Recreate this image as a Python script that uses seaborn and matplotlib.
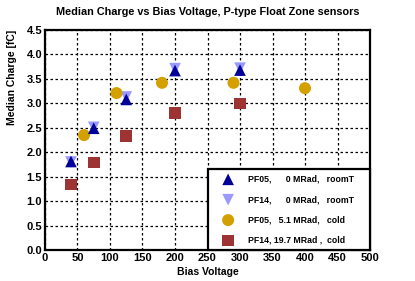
import numpy as np
import pandas as pd
import matplotlib
matplotlib.use('Agg')
import matplotlib.pyplot as plt
import seaborn as sns
from matplotlib.ticker import MultipleLocator, FormatStrFormatter

sns.set_style('white')
plt.rcParams['font.family'] = ['Liberation Sans', 'DejaVu Sans']
plt.rcParams['text.color'] = 'black'
plt.rcParams['axes.labelcolor'] = 'black'
plt.rcParams['xtick.color'] = 'black'
plt.rcParams['ytick.color'] = 'black'

# data
pf05_room_v = [40, 75, 125, 200, 300]
pf05_room_q = [1.81, 2.49, 3.08, 3.67, 3.68]
pf14_room_v = [40, 75, 125, 200, 300]
pf14_room_q = [1.80, 2.51, 3.13, 3.71, 3.72]
pf05_cold_v = [60, 110, 180, 290, 400]
pf05_cold_q = [2.35, 3.21, 3.42, 3.42, 3.31]
pf14_cold_v = [40, 75, 125, 200, 300]
pf14_cold_q = [1.34, 1.79, 2.33, 2.80, 3.00]

labels = ['PF05,      0 MRad,   roomT',
          'PF14,      0 MRad,   roomT',
          'PF05,   5.1 MRad,   cold',
          'PF14, 19.7 MRad ,  cold']

series = [
    (pf05_room_v, pf05_room_q, labels[0], '^', '#000099', 70, 4),
    (pf14_room_v, pf14_room_q, labels[1], 'v', '#9999ff', 70, 3),
    (pf05_cold_v, pf05_cold_q, labels[2], 'o', '#d4a000', 75, 3),
    (pf14_cold_v, pf14_cold_q, labels[3], 's', '#9e3333', 70, 3),
]

fig = plt.figure(figsize=(4.15, 2.81), dpi=100)
ax = fig.add_axes([0.1084, 0.1103, 0.7832, 0.7829])

for v, q, lab, m, c, s, z in series:
    df = pd.DataFrame({'v': v, 'q': q})
    sns.scatterplot(data=df, x='v', y='q', marker=m, color=c, s=s,
                    edgecolor='none', label=lab, ax=ax, zorder=z)

ax.set_xlim(0, 500)
ax.set_ylim(0, 4.5)
ax.xaxis.set_major_locator(MultipleLocator(50))
ax.xaxis.set_minor_locator(MultipleLocator(10))
ax.yaxis.set_major_locator(MultipleLocator(0.5))
ax.yaxis.set_minor_locator(MultipleLocator(0.1))
ax.yaxis.set_major_formatter(FormatStrFormatter('%.1f'))
ax.tick_params(which='both', direction='in', top=False, right=False,
               labelsize=8, pad=2)
ax.tick_params(which='major', length=6, width=1.3)
ax.tick_params(which='minor', length=3, width=1.0)
for lbl in ax.get_xticklabels() + ax.get_yticklabels():
    lbl.set_fontweight('bold')

ax.grid(True, which='major', color='black', linestyle=(0, (2, 2)), linewidth=0.9)
for sp in ax.spines.values():
    sp.set_linewidth(1.6)
    sp.set_color('black')

ax.set_xlabel('Bias Voltage', fontsize=7.5, fontweight='bold', labelpad=3)
ax.set_ylabel('Median Charge [fC]', fontsize=7.5, fontweight='bold')
ax.yaxis.set_label_coords(-0.085, 1.0)
ax.yaxis.label.set_horizontalalignment('right')
ax.set_title('Median Charge vs Bias Voltage, P-type Float Zone sensors',
             fontsize=7.8, fontweight='bold', pad=11, color='black')

leg = ax.legend(loc='lower left', bbox_to_anchor=(0.5015, 0.0, 0.4985, 0.373),
                mode='expand', frameon=True, fancybox=False, borderpad=0.6,
                labelspacing=1.3, handlelength=3.4, handletextpad=0.6,
                borderaxespad=0.0, prop={'weight': 'bold', 'size': 6.3})
leg.get_frame().set_edgecolor('black')
leg.get_frame().set_linewidth(1.6)
leg.get_frame().set_alpha(1)
leg.set_zorder(6)

plt.savefig('out.png', dpi=100)
